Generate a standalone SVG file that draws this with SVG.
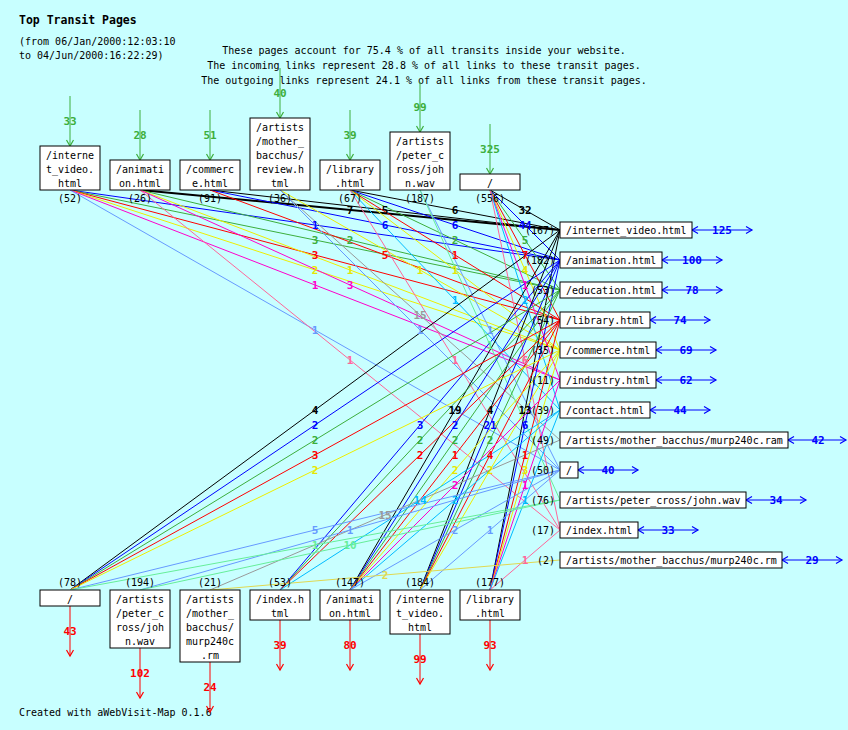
<svg xmlns="http://www.w3.org/2000/svg" width="848" height="730" viewBox="0 0 848 730">
<style>
text{font-family:"DejaVu Sans Mono","Liberation Mono",monospace;font-size:10px;fill:#000}
.t{font-weight:bold;font-size:11.5px}
.c{text-anchor:middle}
.e{text-anchor:end}
.lb{font-weight:bold;font-size:11px;text-anchor:middle}
.box{fill:#fff;stroke:#000;stroke-width:1}
#edges line{stroke-width:1;fill:none}
#edges line.w2{stroke-width:1}
#edges line.w3{stroke-width:1}
#edges line.w4{stroke-width:1}
#edges line.thick{stroke-width:2}
line.k{stroke:#000} text.k{fill:#000}
line.b{stroke:#0000ff} text.b{fill:#0000ff}
line.g{stroke:#3cae3c} text.g{fill:#3cae3c}
line.r{stroke:#ff0000} text.r{fill:#ff0000}
line.y{stroke:#eeee00} text.y{fill:#e6e600}
line.m{stroke:#ff00cc} text.m{fill:#ff00cc}
line.cy{stroke:#00bbff} text.cy{fill:#00bbff}
line.gr{stroke:#999999} text.gr{fill:#999999}
line.cf{stroke:#6699ff} text.cf{fill:#6699ff}
line.lg{stroke:#66ee99} text.lg{fill:#66ee99}
line.p{stroke:#ff6699} text.p{fill:#ff6699}
line.ry{stroke:#e0d850} text.ry{fill:#e0d850}
.ina{stroke:#3cae3c;stroke-width:1.3;marker-end:url(#mg)}
.outa{stroke:#ff0000;stroke-width:1.3;marker-end:url(#mr)}
.tra{stroke:#0000ff;stroke-width:1.3;marker-start:url(#mb);marker-end:url(#mb)}
</style>
<defs>
<marker id="mg" markerUnits="userSpaceOnUse" markerWidth="10" markerHeight="10" refX="6" refY="4" orient="auto" overflow="visible"><path d="M0,0.5 L6,4 L0,7.5" fill="none" stroke="#3cae3c" stroke-width="1.2"/></marker>
<marker id="mr" markerUnits="userSpaceOnUse" markerWidth="10" markerHeight="10" refX="6" refY="4" orient="auto" overflow="visible"><path d="M0,0.5 L6,4 L0,7.5" fill="none" stroke="#ff0000" stroke-width="1.2"/></marker>
<marker id="mb" markerUnits="userSpaceOnUse" markerWidth="10" markerHeight="10" refX="6" refY="4" orient="auto-start-reverse" overflow="visible"><path d="M0,0.5 L6,4 L0,7.5" fill="none" stroke="#0000ff" stroke-width="1.2"/></marker>
</defs>
<rect x="0" y="0" width="848" height="730" fill="#c8ffff"/>

<g id="header">
<text class="t" x="19" y="24">Top Transit Pages</text>
<text x="19" y="45">(from 06/Jan/2000:12:03:10</text>
<text x="19" y="59">to 04/Jun/2000:16:22:29)</text>
<text class="c" x="424" y="54">These pages account for 75.4 % of all transits inside your website.</text>
<text class="c" x="424" y="69">The incoming links represent 28.8 % of all links to these transit pages.</text>
<text class="c" x="424" y="84">The outgoing links represent 24.1 % of all links from these transit pages.</text>
<text x="19" y="716">Created with aWebVisit-Map 0.1.6</text>
</g>

<g id="edges">
<line class="k thick" x1="140" y1="190" x2="560" y2="230"/>
<line class="k" x1="210" y1="190" x2="560" y2="230"/>
<line class="k" x1="350" y1="190" x2="560" y2="230"/>
<line class="k" x1="490" y1="190" x2="560" y2="230"/>
<line class="b" x1="70" y1="190" x2="560" y2="260"/>
<line class="b" x1="210" y1="190" x2="560" y2="260"/>
<line class="b" x1="350" y1="190" x2="560" y2="260"/>
<line class="b" x1="490" y1="190" x2="560" y2="260"/>
<line class="g" x1="70" y1="190" x2="560" y2="290"/>
<line class="g" x1="140" y1="190" x2="560" y2="290"/>
<line class="g" x1="350" y1="190" x2="560" y2="290"/>
<line class="g" x1="490" y1="190" x2="560" y2="290"/>
<line class="r" x1="70" y1="190" x2="560" y2="320"/>
<line class="r" x1="210" y1="190" x2="560" y2="320"/>
<line class="r" x1="350" y1="190" x2="560" y2="320"/>
<line class="r" x1="490" y1="190" x2="560" y2="320"/>
<line class="y" x1="70" y1="190" x2="560" y2="350"/>
<line class="y" x1="140" y1="190" x2="560" y2="350"/>
<line class="y" x1="280" y1="190" x2="560" y2="350"/>
<line class="y" x1="350" y1="190" x2="560" y2="350"/>
<line class="y" x1="490" y1="190" x2="560" y2="350"/>
<line class="m" x1="70" y1="190" x2="560" y2="380"/>
<line class="m" x1="140" y1="190" x2="560" y2="380"/>
<line class="m" x1="490" y1="190" x2="560" y2="380"/>
<line class="cy" x1="350" y1="190" x2="560" y2="410"/>
<line class="cy" x1="490" y1="190" x2="560" y2="410"/>
<line class="gr" x1="280" y1="190" x2="560" y2="440"/>
<line class="cf" x1="70" y1="190" x2="560" y2="470"/>
<line class="cf" x1="280" y1="190" x2="560" y2="470"/>
<line class="cf" x1="420" y1="190" x2="560" y2="470"/>
<line class="lg" x1="420" y1="190" x2="560" y2="500"/>
<line class="p" x1="140" y1="190" x2="560" y2="530"/>
<line class="p" x1="350" y1="190" x2="560" y2="530"/>
<line class="p" x1="490" y1="190" x2="560" y2="530"/>

<line class="k" x1="560" y1="230" x2="70" y2="590"/>
<line class="k" x1="560" y1="230" x2="350" y2="590"/>
<line class="k" x1="560" y1="230" x2="420" y2="590"/>
<line class="k" x1="560" y1="230" x2="490" y2="590"/>
<line class="b" x1="560" y1="260" x2="70" y2="590"/>
<line class="b" x1="560" y1="260" x2="280" y2="590"/>
<line class="b" x1="560" y1="260" x2="350" y2="590"/>
<line class="b" x1="560" y1="260" x2="420" y2="590"/>
<line class="b" x1="560" y1="260" x2="490" y2="590"/>
<line class="g" x1="560" y1="290" x2="70" y2="590"/>
<line class="g" x1="560" y1="290" x2="280" y2="590"/>
<line class="g" x1="560" y1="290" x2="350" y2="590"/>
<line class="g" x1="560" y1="290" x2="420" y2="590"/>
<line class="r" x1="560" y1="320" x2="70" y2="590"/>
<line class="r" x1="560" y1="320" x2="280" y2="590"/>
<line class="r" x1="560" y1="320" x2="350" y2="590"/>
<line class="r" x1="560" y1="320" x2="420" y2="590"/>
<line class="r" x1="560" y1="320" x2="490" y2="590"/>
<line class="y" x1="560" y1="350" x2="70" y2="590"/>
<line class="y" x1="560" y1="350" x2="350" y2="590"/>
<line class="y" x1="560" y1="350" x2="420" y2="590"/>
<line class="y" x1="560" y1="350" x2="490" y2="590"/>
<line class="m" x1="560" y1="380" x2="350" y2="590"/>
<line class="m" x1="560" y1="380" x2="490" y2="590"/>
<line class="cy" x1="560" y1="410" x2="280" y2="590"/>
<line class="cy" x1="560" y1="410" x2="350" y2="590"/>
<line class="cy" x1="560" y1="410" x2="490" y2="590"/>
<line class="gr" x1="560" y1="440" x2="210" y2="590"/>
<line class="cf" x1="560" y1="470" x2="70" y2="590"/>
<line class="cf" x1="560" y1="470" x2="140" y2="590"/>
<line class="cf" x1="560" y1="470" x2="350" y2="590"/>
<line class="cf" x1="560" y1="470" x2="420" y2="590"/>
<line class="lg" x1="560" y1="500" x2="70" y2="590"/>
<line class="lg" x1="560" y1="500" x2="140" y2="590"/>
<line class="p" x1="560" y1="530" x2="490" y2="590"/>
<line class="ry" x1="560" y1="560" x2="210" y2="590"/>

<text class="lb k" x="350" y="214">7</text>
<text class="lb k" x="385" y="214">5</text>
<text class="lb k" x="455" y="214">6</text>
<text class="lb k" x="525" y="214">32</text>
<text class="lb b" x="315" y="229">1</text>
<text class="lb b" x="385" y="229">6</text>
<text class="lb b" x="455" y="229">6</text>
<text class="lb b" x="525" y="229">44</text>
<text class="lb g" x="315" y="244">3</text>
<text class="lb g" x="350" y="244">2</text>
<text class="lb g" x="455" y="244">2</text>
<text class="lb g" x="525" y="244">5</text>
<text class="lb r" x="315" y="259">3</text>
<text class="lb r" x="385" y="259">5</text>
<text class="lb r" x="455" y="259">1</text>
<text class="lb r" x="525" y="259">7</text>
<text class="lb y" x="315" y="274">2</text>
<text class="lb y" x="350" y="274">1</text>
<text class="lb y" x="420" y="274">1</text>
<text class="lb y" x="455" y="274">1</text>
<text class="lb y" x="525" y="274">4</text>
<text class="lb m" x="315" y="289">1</text>
<text class="lb m" x="350" y="289">3</text>
<text class="lb m" x="525" y="289">1</text>
<text class="lb cy" x="455" y="304">1</text>
<text class="lb cy" x="525" y="304">2</text>
<text class="lb gr" x="420" y="319">15</text>
<text class="lb cf" x="315" y="334">1</text>
<text class="lb cf" x="420" y="334">1</text>
<text class="lb cf" x="490" y="334">1</text>
<text class="lb lg" x="490" y="349">1</text>
<text class="lb p" x="350" y="364">1</text>
<text class="lb p" x="455" y="364">1</text>
<text class="lb p" x="525" y="364">6</text>

<text class="lb k" x="315" y="414">4</text>
<text class="lb k" x="455" y="414">19</text>
<text class="lb k" x="490" y="414">4</text>
<text class="lb k" x="525" y="414">13</text>
<text class="lb b" x="315" y="429">2</text>
<text class="lb b" x="420" y="429">3</text>
<text class="lb b" x="455" y="429">2</text>
<text class="lb b" x="490" y="429">21</text>
<text class="lb b" x="525" y="429">6</text>
<text class="lb g" x="315" y="444">2</text>
<text class="lb g" x="420" y="444">2</text>
<text class="lb g" x="455" y="444">2</text>
<text class="lb g" x="490" y="444">2</text>
<text class="lb r" x="315" y="459">3</text>
<text class="lb r" x="420" y="459">2</text>
<text class="lb r" x="455" y="459">1</text>
<text class="lb r" x="490" y="459">4</text>
<text class="lb r" x="525" y="459">1</text>
<text class="lb y" x="315" y="474">2</text>
<text class="lb y" x="455" y="474">2</text>
<text class="lb y" x="490" y="474">2</text>
<text class="lb y" x="525" y="474">3</text>
<text class="lb m" x="455" y="489">2</text>
<text class="lb m" x="525" y="489">1</text>
<text class="lb cy" x="420" y="504">14</text>
<text class="lb cy" x="455" y="504">2</text>
<text class="lb cy" x="525" y="504">1</text>
<text class="lb gr" x="385" y="519">15</text>
<text class="lb cf" x="315" y="534">5</text>
<text class="lb cf" x="350" y="534">1</text>
<text class="lb cf" x="455" y="534">2</text>
<text class="lb cf" x="490" y="534">1</text>
<text class="lb lg" x="315" y="549">1</text>
<text class="lb lg" x="350" y="549">10</text>
<text class="lb p" x="525" y="564">1</text>
<text class="lb ry" x="385" y="579">2</text>

<line class="ina" x1="70" y1="96" x2="70" y2="146"/>
<line class="ina" x1="140" y1="110" x2="140" y2="160"/>
<line class="ina" x1="210" y1="110" x2="210" y2="160"/>
<line class="ina" x1="280" y1="68" x2="280" y2="118"/>
<line class="ina" x1="350" y1="110" x2="350" y2="160"/>
<line class="ina" x1="420" y1="82" x2="420" y2="132"/>
<line class="ina" x1="490" y1="124" x2="490" y2="174"/>
<text class="lb g" x="70" y="125">33</text>
<text class="lb g" x="140" y="139">28</text>
<text class="lb g" x="210" y="139">51</text>
<text class="lb g" x="280" y="97">40</text>
<text class="lb g" x="350" y="139">39</text>
<text class="lb g" x="420" y="111">99</text>
<text class="lb g" x="490" y="153">325</text>

<line class="tra" x1="692" y1="230" x2="752" y2="230"/>
<line class="tra" x1="662" y1="260" x2="722" y2="260"/>
<line class="tra" x1="662" y1="290" x2="722" y2="290"/>
<line class="tra" x1="650" y1="320" x2="710" y2="320"/>
<line class="tra" x1="656" y1="350" x2="716" y2="350"/>
<line class="tra" x1="656" y1="380" x2="716" y2="380"/>
<line class="tra" x1="650" y1="410" x2="710" y2="410"/>
<line class="tra" x1="788" y1="440" x2="846" y2="440"/>
<line class="tra" x1="578" y1="470" x2="638" y2="470"/>
<line class="tra" x1="746" y1="500" x2="806" y2="500"/>
<line class="tra" x1="638" y1="530" x2="698" y2="530"/>
<line class="tra" x1="782" y1="560" x2="842" y2="560"/>
<text class="lb b" x="722" y="234">125</text>
<text class="lb b" x="692" y="264">100</text>
<text class="lb b" x="692" y="294">78</text>
<text class="lb b" x="680" y="324">74</text>
<text class="lb b" x="686" y="354">69</text>
<text class="lb b" x="686" y="384">62</text>
<text class="lb b" x="680" y="414">44</text>
<text class="lb b" x="818" y="444">42</text>
<text class="lb b" x="608" y="474">40</text>
<text class="lb b" x="776" y="504">34</text>
<text class="lb b" x="668" y="534">33</text>
<text class="lb b" x="812" y="564">29</text>

<line class="outa" x1="70" y1="606" x2="70" y2="656"/>
<line class="outa" x1="140" y1="648" x2="140" y2="698"/>
<line class="outa" x1="210" y1="662" x2="210" y2="712"/>
<line class="outa" x1="280" y1="620" x2="280" y2="670"/>
<line class="outa" x1="350" y1="620" x2="350" y2="670"/>
<line class="outa" x1="420" y1="634" x2="420" y2="684"/>
<line class="outa" x1="490" y1="620" x2="490" y2="670"/>
<text class="lb r" x="70" y="635">43</text>
<text class="lb r" x="140" y="677">102</text>
<text class="lb r" x="210" y="691">24</text>
<text class="lb r" x="280" y="649">39</text>
<text class="lb r" x="350" y="649">80</text>
<text class="lb r" x="420" y="663">99</text>
<text class="lb r" x="490" y="649">93</text>
</g>

<g id="in-internet_video">
<rect class="box" x="40" y="146" width="60" height="44"/>
<text class="c" x="70" y="159">/interne</text><text class="c" x="70" y="173">t_video.</text><text class="c" x="70" y="187">html</text>
<text class="c" x="70" y="202">(52)</text>
</g>
<g id="in-animation">
<rect class="box" x="110" y="160" width="60" height="30"/>
<text class="c" x="140" y="173">/animati</text><text class="c" x="140" y="187">on.html</text>
<text class="c" x="140" y="202">(26)</text>
</g>
<g id="in-commerce">
<rect class="box" x="180" y="160" width="60" height="30"/>
<text class="c" x="210" y="173">/commerc</text><text class="c" x="210" y="187">e.html</text>
<text class="c" x="210" y="202">(91)</text>
</g>
<g id="in-review">
<rect class="box" x="250" y="118" width="60" height="72"/>
<text class="c" x="280" y="131">/artists</text><text class="c" x="280" y="145">/mother_</text><text class="c" x="280" y="159">bacchus/</text><text class="c" x="280" y="173">review.h</text><text class="c" x="280" y="187">tml</text>
<text class="c" x="280" y="202">(36)</text>
</g>
<g id="in-library">
<rect class="box" x="320" y="160" width="60" height="30"/>
<text class="c" x="350" y="173">/library</text><text class="c" x="350" y="187">.html</text>
<text class="c" x="350" y="202">(67)</text>
</g>
<g id="in-john">
<rect class="box" x="390" y="132" width="60" height="58"/>
<text class="c" x="420" y="145">/artists</text><text class="c" x="420" y="159">/peter_c</text><text class="c" x="420" y="173">ross/joh</text><text class="c" x="420" y="187">n.wav</text>
<text class="c" x="420" y="202">(187)</text>
</g>
<g id="in-root">
<rect class="box" x="460" y="174" width="60" height="16"/>
<text class="c" x="490" y="187">/</text>
<text class="c" x="490" y="202">(556)</text>
</g>

<g id="t-internet_video"><rect class="box" x="560" y="222" width="132" height="16"/><text x="566" y="234">/internet_video.html</text><text class="e" x="555" y="234">(167)</text></g>
<g id="t-animation"><rect class="box" x="560" y="252" width="102" height="16"/><text x="566" y="264">/animation.html</text><text class="e" x="555" y="264">(182)</text></g>
<g id="t-education"><rect class="box" x="560" y="282" width="102" height="16"/><text x="566" y="294">/education.html</text><text class="e" x="555" y="294">(53)</text></g>
<g id="t-library"><rect class="box" x="560" y="312" width="90" height="16"/><text x="566" y="324">/library.html</text><text class="e" x="555" y="324">(54)</text></g>
<g id="t-commerce"><rect class="box" x="560" y="342" width="96" height="16"/><text x="566" y="354">/commerce.html</text><text class="e" x="555" y="354">(35)</text></g>
<g id="t-industry"><rect class="box" x="560" y="372" width="96" height="16"/><text x="566" y="384">/industry.html</text><text class="e" x="555" y="384">(11)</text></g>
<g id="t-contact"><rect class="box" x="560" y="402" width="90" height="16"/><text x="566" y="414">/contact.html</text><text class="e" x="555" y="414">(39)</text></g>
<g id="t-ram"><rect class="box" x="560" y="432" width="228" height="16"/><text x="566" y="444">/artists/mother_bacchus/murp240c.ram</text><text class="e" x="555" y="444">(49)</text></g>
<g id="t-root"><rect class="box" x="560" y="462" width="18" height="16"/><text x="566" y="474">/</text><text class="e" x="555" y="474">(50)</text></g>
<g id="t-john"><rect class="box" x="560" y="492" width="186" height="16"/><text x="566" y="504">/artists/peter_cross/john.wav</text><text class="e" x="555" y="504">(76)</text></g>
<g id="t-index"><rect class="box" x="560" y="522" width="78" height="16"/><text x="566" y="534">/index.html</text><text class="e" x="555" y="534">(17)</text></g>
<g id="t-rm"><rect class="box" x="560" y="552" width="222" height="16"/><text x="566" y="564">/artists/mother_bacchus/murp240c.rm</text><text class="e" x="555" y="564">(2)</text></g>

<g id="out-root">
<rect class="box" x="40" y="590" width="60" height="16"/>
<text class="c" x="70" y="603">/</text>
<text class="c" x="70" y="586">(78)</text>
</g>
<g id="out-john">
<rect class="box" x="110" y="590" width="60" height="58"/>
<text class="c" x="140" y="603">/artists</text><text class="c" x="140" y="617">/peter_c</text><text class="c" x="140" y="631">ross/joh</text><text class="c" x="140" y="645">n.wav</text>
<text class="c" x="140" y="586">(194)</text>
</g>
<g id="out-rm">
<rect class="box" x="180" y="590" width="60" height="72"/>
<text class="c" x="210" y="603">/artists</text><text class="c" x="210" y="617">/mother_</text><text class="c" x="210" y="631">bacchus/</text><text class="c" x="210" y="645">murp240c</text><text class="c" x="210" y="659">.rm</text>
<text class="c" x="210" y="586">(21)</text>
</g>
<g id="out-index">
<rect class="box" x="250" y="590" width="60" height="30"/>
<text class="c" x="280" y="603">/index.h</text><text class="c" x="280" y="617">tml</text>
<text class="c" x="280" y="586">(53)</text>
</g>
<g id="out-animation">
<rect class="box" x="320" y="590" width="60" height="30"/>
<text class="c" x="350" y="603">/animati</text><text class="c" x="350" y="617">on.html</text>
<text class="c" x="350" y="586">(147)</text>
</g>
<g id="out-internet_video">
<rect class="box" x="390" y="590" width="60" height="44"/>
<text class="c" x="420" y="603">/interne</text><text class="c" x="420" y="617">t_video.</text><text class="c" x="420" y="631">html</text>
<text class="c" x="420" y="586">(184)</text>
</g>
<g id="out-library">
<rect class="box" x="460" y="590" width="60" height="30"/>
<text class="c" x="490" y="603">/library</text><text class="c" x="490" y="617">.html</text>
<text class="c" x="490" y="586">(177)</text>
</g>
</svg>
